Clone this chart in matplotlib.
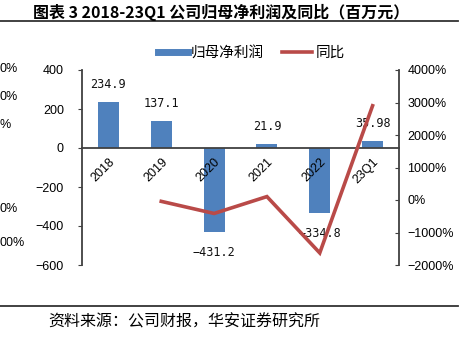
import matplotlib
matplotlib.use("Agg")
import matplotlib.pyplot as plt
from matplotlib.lines import Line2D
from matplotlib.ticker import FixedLocator, FuncFormatter

plt.rcParams['font.family'] = ['Liberation Sans', 'Noto Sans CJK SC', 'DejaVu Sans']
plt.rcParams['axes.unicode_minus'] = True

CJK = ['Noto Sans CJK SC', 'DejaVu Sans']

# data
categories = ['2018', '2019', '2020', '2021', '2022', '23Q1']
net_profit = [234.9, 137.1, -431.2, 21.9, -334.8, 35.98]
profit_labels = ['234.9', '137.1', '-431.2', '21.9', '-334.8', '35.98']
yoy_categories = ['2019', '2020', '2021', '2022', '23Q1']
yoy_pct = [-41.6, -414.5, 105.1, -1628.8, 2900.0]
left_ticks = [-600, -400, -200, 0, 200, 400]
right_ticks = [-2000, -1000, 0, 1000, 2000, 3000, 4000]

BLUE = '#4F81BD'
RED = '#B94A48'
AXIS = '#404040'

W, H = 465, 338
fig = plt.figure(figsize=(W / 100, H / 100), dpi=100)

ax = fig.add_axes([82 / W, 1 - 265 / H, (399 - 82) / W, (265 - 70) / H])
ax.set_axisbelow(False)
ax2 = ax.twinx()

x = list(range(len(categories)))
ax.bar(x, net_profit, width=0.4, color=BLUE, zorder=2)
ax.set_xlim(-0.5, len(categories) - 0.5)
ax.set_ylim(-600, 400)
ax.yaxis.set_major_locator(FixedLocator(left_ticks))
ax.yaxis.set_major_formatter(FuncFormatter(lambda v, p: f'{int(v)}'.replace('-', '\u2212')))

for i, (v, lab) in enumerate(zip(net_profit, profit_labels)):
    off = 8 if v >= 0 else -10
    ax.annotate(lab.replace('-', '\u2212'), (i, v), xytext=(0, off), textcoords='offset points',
                ha='center', va='bottom' if v >= 0 else 'top', fontsize=8.5,
                family='DejaVu Sans Mono', color='#111111', zorder=3)

for s in ['top', 'right']:
    ax.spines[s].set_visible(False)
ax.spines['bottom'].set_position(('data', 0))
ax.spines['bottom'].set_color(AXIS)
ax.spines['bottom'].set_linewidth(1.3)
ax.spines['left'].set_color(AXIS)
ax.spines['left'].set_linewidth(1.3)
ax.set_xticks(x)
ax.set_xticklabels(categories, rotation=45, ha='right', rotation_mode='anchor', fontsize=9)
ax.tick_params(axis='x', length=0, pad=6)
ax.tick_params(axis='y', direction='out', length=3, color=AXIS, labelsize=9, pad=10)

# year-over-year line on the secondary axis
xi = [categories.index(c) for c in yoy_categories]
ax2.plot(xi, yoy_pct, color=RED, lw=2.6, solid_joinstyle='miter', zorder=4)
ax2.set_ylim(-2000, 4000)
ax2.yaxis.set_major_locator(FixedLocator(right_ticks))
ax2.yaxis.set_major_formatter(FuncFormatter(lambda v, p: f'{int(v)}%'.replace('-', '\u2212')))
for s in ['top', 'left', 'bottom']:
    ax2.spines[s].set_visible(False)
ax2.spines['right'].set_color(AXIS)
ax2.spines['right'].set_linewidth(1.3)
ax2.tick_params(axis='y', direction='in', length=3, color=AXIS, labelsize=9, pad=6)

# legend
handles = [Line2D([], [], color=BLUE, lw=5), Line2D([], [], color=RED, lw=2.6)]
fig.legend(handles, ['归母净利润', '同比'], loc='center', bbox_to_anchor=(251 / W, 1 - 53 / H),
           ncol=2, frameon=False, prop={'family': CJK, 'size': 10.5},
           handlelength=2.1, columnspacing=1.2, handletextpad=0.2)

# title and rules
fig.text(33 / W, 1 - 12 / H, '图表 3 2018-23Q1 公司归母净利润及同比（百万元）',
         family=CJK, fontsize=11.5, fontweight='bold', va='center', ha='left')
fig.add_artist(Line2D([0, 458 / W], [1 - 21 / H, 1 - 21 / H], color='#333333', lw=1.3))
fig.add_artist(Line2D([0, 458 / W], [1 - 305.5 / H, 1 - 305.5 / H], color='#333333', lw=1.3))
fig.text(48 / W, 1 - 322 / H, '资料来源：公司财报，华安证券研究所',
         family=CJK, fontsize=11.5, va='center', ha='left')

# trailing axis labels of the neighbouring panel at the left edge
for txt, yy in [('0%', 69), ('0%', 97), ('%', 125), ('0%', 209), ('00%', 243)]:
    fig.text(0, 1 - yy / H, txt, fontsize=9, ha='left', va='center')

fig.savefig('out.png', dpi=100)
